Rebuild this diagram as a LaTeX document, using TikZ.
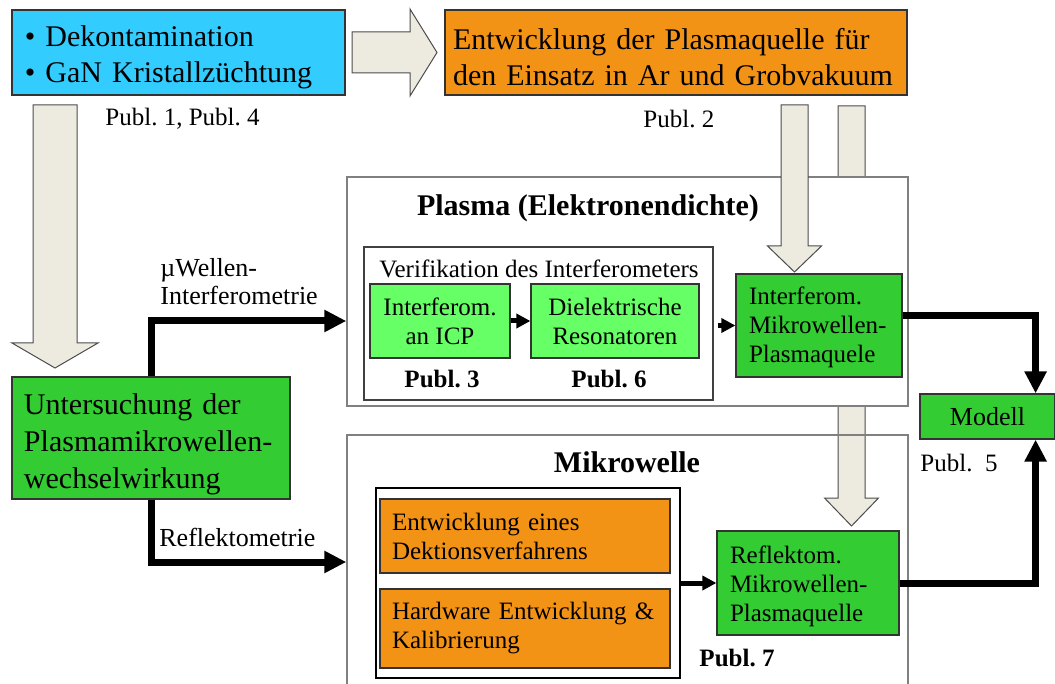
\documentclass[tikz,border=0pt]{standalone}
\usepackage{fontspec}
\setmainfont{Liberation Serif}
\usetikzlibrary{arrows.meta,calc}

\definecolor{kristall}{HTML}{33CCFF}
\definecolor{quelle}{HTML}{F39316}
\definecolor{wgreen}{HTML}{33CC33}
\definecolor{lgreen}{HTML}{66FF66}
\definecolor{fatfill}{HTML}{EDEBE0}

% hollow block arrow pointing down: x, top, head start, tip, shaft half, head half
\newcommand{\fatdown}[6]{%
  \draw[fat] (#1-#5,#2) -- (#1+#5,#2) -- (#1+#5,#3) -- (#1+#6,#3) -- (#1,#4)
    -- (#1-#6,#3) -- (#1-#5,#3) -- cycle;}

\tikzset{dropby/.style={execute at begin node={\rule{0pt}{#1}}}}
\frenchspacing

\begin{document}
\begin{tikzpicture}[x=.5pt, y=-.5pt]
  \tikzstyle{box}=[draw=black!80, line width=.6pt, inner ysep=0pt, align=left]
  \tikzstyle{big}=[font=\fontsize{15}{18}\selectfont]
  \tikzstyle{mid}=[font=\fontsize{12.5}{14.5}\selectfont]
  \tikzstyle{lbl}=[inner sep=0pt, align=left, font=\fontsize{13}{14}\selectfont]
  \tikzstyle{pub}=[inner sep=0pt, font=\fontsize{12.5}{14}\selectfont]
  \tikzstyle{bpub}=[inner sep=0pt, font=\fontsize{12.5}{14}\selectfont\bfseries]
  \tikzstyle{title}=[font=\fontsize{15}{18}\selectfont\bfseries]
  \tikzstyle{area}=[draw=black!50, line width=.7pt]
  \tikzstyle{fat}=[draw=black!70, line width=.5pt, fill=fatfill]
  \tikzstyle{thickarr}=[line width=3.5pt, -{Triangle[length=11pt,width=10.5pt]}]
  \tikzstyle{smallarr}=[line width=2.5pt, -{Triangle[length=7pt,width=7pt]}]

  \useasboundingbox (0,0) rectangle (1055,684);
  \clip (0,0) rectangle (1055,684);

  % top row
  \node[box, fill=kristall, big, dropby=15.5pt, text width=153.5pt, inner xsep=6.5pt, minimum height=42.5pt] (dekon) at (178.5,52.5)
    {• Dekontamination\\• GaN Kristallzüchtung};
  \node[box, fill=quelle, big, dropby=15.5pt, text width=223pt, inner xsep=4pt, minimum height=42.5pt] (entw) at (676,52.5)
    {Entwicklung der Plasmaquelle für\\den Einsatz in Ar und Grobvakuum};
  \node[pub, anchor=west] (p14) at (105,119) {Publ. 1, Publ. 4};
  \node[pub, anchor=west] (p2) at (643,119) {Publ. 2};
  \draw[fat] (352,32) -- (410,32) -- (410,9) -- (437,52.5) -- (410,96) -- (410,73) -- (352,73) -- cycle;

  % the two areas
  \fatdown{851.5}{106}{498}{526}{13.5}{27}
  \node[area, minimum width=280.5pt, minimum height=127pt] (mikro) at (627.5,562) {};
  \node[area, fill=white, minimum width=280.5pt, minimum height=114.5pt] (plasma) at (627.5,291.5) {};
  \fatdown{794.5}{105}{246}{272}{13.5}{27}
  \node[title] (ptitle) at (588,208) {Plasma (Elektronendichte)};
  \node[title] (mtitle) at (627,462) {Mikrowelle};

  % left
  \fatdown{55}{105}{343}{368}{22}{43}
  \node[box, fill=wgreen, font=\fontsize{15}{18.3}\selectfont, dropby=16.7pt, text width=127pt, inner xsep=6pt, minimum height=61pt] (unters) at (151,438)
    {Untersuchung der\\Plasmamikrowellen-\\wechselwirkung};
  \node[lbl, anchor=west] (lmw) at (160,282) {µWellen-\\Interferometrie};
  \node[lbl, anchor=west] (lref) at (159,537) {Reflektometrie};

  % plasma
  \node[draw=black!75, line width=.6pt, minimum width=174.5pt, minimum height=76.5pt] (verif) at (538.5,323.5) {};
  \node[mid] (vtext) at (539,269) {Verifikation des Interferometers};
  \node[box, fill=lgreen, mid, align=center, minimum width=70pt, minimum height=37pt] (icp) at (440,321)
    {Interferom.\\an ICP};
  \node[box, fill=lgreen, mid, align=center, minimum width=84pt, minimum height=37pt] (diel) at (615,321)
    {Dielektrische\\Resonatoren};
  \node[bpub] (p3) at (442,379) {Publ. 3};
  \node[bpub] (p6) at (609,379) {Publ. 6};
  \node[box, fill=wgreen, mid, dropby=10.5pt, text width=70pt, inner xsep=6.5pt, minimum height=51.5pt] (interf) at (819,325.5)
    {Interferom.\\Mikrowellen-\\Plasmaquele};

  % mikrowelle
  \node[draw=black, line width=.6pt, minimum width=152pt, minimum height=95pt] (mwinner) at (528,583) {};
  \node[box, fill=quelle, mid, text width=133pt, inner xsep=6pt, minimum height=37pt] (devA) at (525,536)
    {Entwicklung eines\\Dektionsverfahrens};
  \node[box, fill=quelle, mid, text width=133pt, inner xsep=6pt, minimum height=39.5pt] (devB) at (525,628.5)
    {Hardware Entwicklung \&\\Kalibrierung};
  \node[box, fill=wgreen, mid, dropby=12.5pt, text width=78pt, inner xsep=6.5pt, minimum height=52pt] (reflek) at (808,583)
    {Reflektom.\\Mikrowellen-\\Plasmaquelle};
  \node[bpub] (p7) at (737,658) {Publ. 7};

  % modell
  \node[box, fill=wgreen, align=center, font=\fontsize{13}{14}\selectfont, minimum width=67.5pt, minimum height=22.5pt] (modell) at (987.5,416.5) {Modell};
  \node[pub, anchor=west] (p5) at (920,463) {Publ.\ \ 5};

  % connections
  \draw[thickarr] (unters.north) |- (plasma.west |- icp.west);
  \draw[thickarr] (unters.south) |- (mikro.west);
  \draw[thickarr] ($(interf.east)+(0,-10)$) -| ($(modell.north east)+(-20,0)$);
  \draw[thickarr] (reflek.east) -| ($(modell.south east)+(-20,0)$);
  \draw[smallarr] (icp) -- (diel);
  \draw[smallarr, shorten <=2pt] (verif.east |- interf.west) -- (interf.west);
  \draw[smallarr] (mwinner) -- (reflek);
\end{tikzpicture}
\end{document}
